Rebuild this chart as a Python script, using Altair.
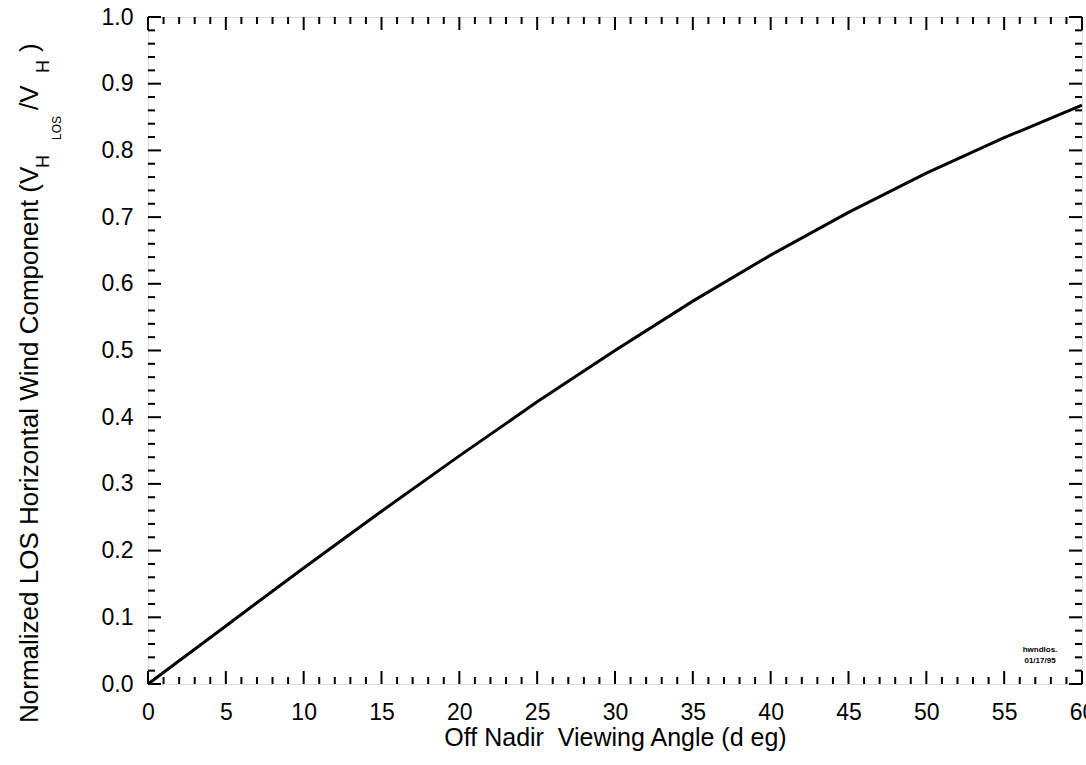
import altair as alt
import pandas as pd

# Off-nadir viewing angle (deg) and normalized LOS horizontal wind component
angle = [0, 5, 10, 15, 20, 25, 30, 35, 40, 45, 50, 55, 60]
ratio = [0.0, 0.087, 0.174, 0.259, 0.342, 0.423, 0.500, 0.574, 0.643, 0.707, 0.766, 0.819, 0.868]

x_major = [0, 5, 10, 15, 20, 25, 30, 35, 40, 45, 50, 55, 60]
x_minor = [v for v in range(0, 61) if v % 5 != 0]
y_major = [0.0, 0.1, 0.2, 0.3, 0.4, 0.5, 0.6, 0.7, 0.8, 0.9, 1.0]
y_minor = [round(i * 0.02, 2) for i in range(51) if i % 5 != 0]

W, H = 934, 667
FONT = "Liberation Sans, Arial"
MAJ, MIN = 13, 7

curve = pd.DataFrame({"angle": angle, "ratio": ratio})
xs = alt.Scale(domain=[0, 60], nice=False)
ys = alt.Scale(domain=[0, 1], nice=False)

base = alt.Chart(curve).mark_line(color="black", strokeWidth=3).encode(
    x=alt.X("angle:Q", scale=xs,
            axis=alt.Axis(values=x_major, ticks=False, domain=False, grid=False,
                          labelFontSize=23, labelFont=FONT, labelColor="black",
                          labelPadding=17, labelFlush=False,
                          title="Off Nadir\u00a0\u00a0Viewing Angle (d eg)", titleFont=FONT,
                          titleFontSize=25, titleFontWeight="normal", titleColor="black",
                          titleBaseline="alphabetic", titleY=61)),
    y=alt.Y("ratio:Q", scale=ys,
            axis=alt.Axis(values=y_major, format=".1f", ticks=False, domain=False, grid=False,
                          labelFontSize=23, labelFont=FONT, labelColor="black",
                          labelPadding=15, labelFlush=False, title=None)),
)

def xticks(vals, length):
    df = pd.DataFrame({"v": vals})
    bottom = alt.Chart(df).mark_rule(color="black", strokeWidth=2).encode(
        x=alt.X("v:Q", scale=xs), y=alt.value(H), y2=alt.value(H - length))
    top = alt.Chart(df).mark_rule(color="black", strokeWidth=2).encode(
        x=alt.X("v:Q", scale=xs), y=alt.value(0), y2=alt.value(length))
    return bottom + top

def yticks(vals, length):
    df = pd.DataFrame({"v": vals})
    left = alt.Chart(df).mark_rule(color="black", strokeWidth=2).encode(
        y=alt.Y("v:Q", scale=ys), x=alt.value(0), x2=alt.value(length))
    right = alt.Chart(df).mark_rule(color="black", strokeWidth=2).encode(
        y=alt.Y("v:Q", scale=ys), x=alt.value(W), x2=alt.value(W - length))
    return left + right

# Y-axis title with subscripts, assembled from rotated text pieces
title_parts = pd.DataFrame({
    "txt": ["Normalized LOS Horizontal Wind Component (V", "H", "LOS", "/V", "H", ")"],
    "px": [-118, -104, -91, -118, -104, -118],
    "py": [706, 151, 123, 93, 56, 35],
    "size": [26, 18, 12, 26, 18, 26],
})
ytitle = alt.Chart(title_parts).mark_text(
    angle=270, align="left", baseline="middle", font=FONT, color="black"
).encode(
    x=alt.X("px:Q", scale=None), y=alt.Y("py:Q", scale=None),
    text="txt:N", size=alt.Size("size:Q", scale=None, legend=None),
)

stamp = pd.DataFrame({"txt": ["hwndlos.", "01/17/95"], "px": [892, 892], "py": [633, 644]})
stamp_text = alt.Chart(stamp).mark_text(
    align="center", baseline="middle", font="Liberation Sans", fontSize=8,
    fontWeight="bold", color="black"
).encode(x=alt.X("px:Q", scale=None), y=alt.Y("py:Q", scale=None), text="txt:N")

chart = alt.layer(
    base, xticks(x_major, MAJ), xticks(x_minor, MIN), yticks(y_major, MAJ), yticks(y_minor, MIN),
    ytitle, stamp_text,
).properties(
    width=W, height=H,
    autosize=alt.AutoSizeParams(type="none"),
    padding={"left": 148, "top": 17, "right": 4, "bottom": 81},
).configure_view(stroke="black", strokeWidth=3).configure(background="white")

chart.save("out.html", embed_options={"renderer": "svg", "actions": False})
